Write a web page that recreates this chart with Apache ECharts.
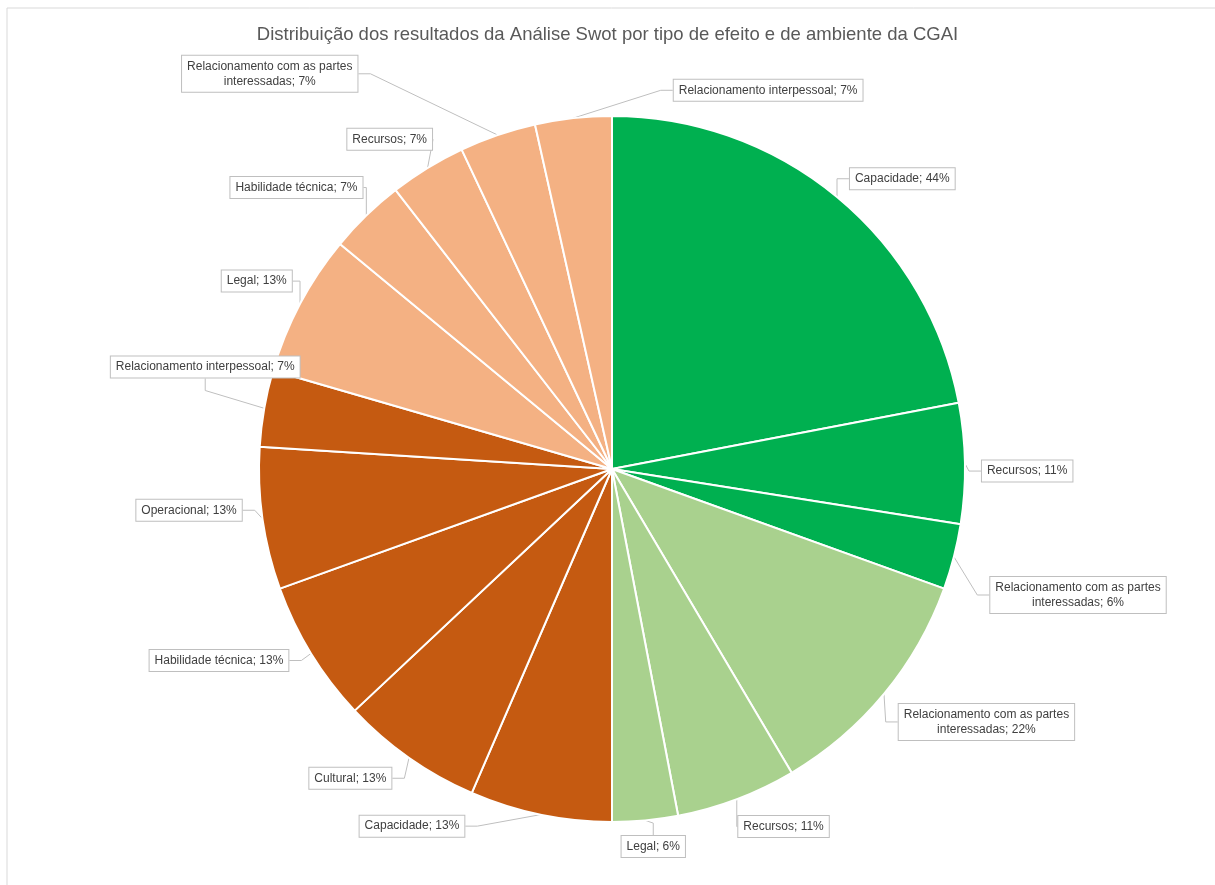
<!DOCTYPE html>
<html>
<head>
<meta charset="utf-8">
<style>
  html, body { margin: 0; padding: 0; background: #fff; }
  #swot { width: 1215px; height: 885px; }
</style>
<script src="https://cdn.jsdelivr.net/npm/echarts@6/dist/echarts.min.js"></script>
</head>
<body>
<div id="swot"></div>
<script>
// Categories, clockwise from the top
var categories = [
  'Capacidade', 'Recursos', 'Relacionamento com as partes interessadas',
  'Relacionamento com as partes interessadas', 'Recursos', 'Legal',
  'Capacidade', 'Cultural', 'Habilidade técnica', 'Operacional', 'Relacionamento interpessoal',
  'Legal', 'Habilidade técnica', 'Recursos', 'Relacionamento com as partes interessadas', 'Relacionamento interpessoal'
];
// share inside each type of effect (%)
var shares = [44, 11, 6, 22, 11, 6, 13, 13, 13, 13, 7, 13, 7, 7, 7, 7];
// which group each slice belongs to
var groups = [0, 0, 0, 1, 1, 1, 2, 2, 2, 2, 2, 3, 3, 3, 3, 3];

const groupColors = ['#00B050', '#A9D18E', '#C55A11', '#F4B183'];

// nudges of the callouts from the default spot (Excel put them by hand)
const labelNudge = [
  [-20, 1], [-20, 8], [0, 32], [-18, 12], [-26, 4], [-43, -1],
  [-54, -13], [10, 0], [11, -6], [16, -12], [72, -37],
  [26, -11], [26, -10], [48, -19], [-83, -52], [309, -3]
];

var chart = echarts.init(document.getElementById('swot'));

var pieData = [];
for (var i = 0; i < categories.length; i++) {
  pieData.push({
    name: categories[i],
    value: shares[i],
    itemStyle: { color: groupColors[groups[i]] }
  });
}

// break the long names on two lines like the original callouts
function labelText(p) {
  var txt = '{c|' + p.name + '; ' + p.value + '%}';
  if (p.name == 'Relacionamento com as partes interessadas') {
    txt = '{c|Relacionamento com as partes}\n{c|interessadas; ' + p.value + '%}';
  }
  return txt;
}

var option = {
  animation: false,
  title: {
    text: 'Distribuição dos resultados da Análise Swot por tipo de efeito e de ambiente da CGAI',
    left: 'center',
    top: 20,
    textStyle: {
      fontFamily: 'Liberation Sans',
      fontSize: 18.5,
      fontWeight: 'normal',
      color: '#595959'
    }
  },
  graphic: [
    {
      type: 'rect',
      shape: { x: 7, y: 8, width: 1300, height: 1000 },
      style: { fill: 'none', stroke: '#D9D9D9', lineWidth: 1 },
      silent: true
    }
  ],
  series: [
    {
      type: 'pie',
      center: [612, 469],
      radius: [0, 353],
      startAngle: 90,
      clockwise: true,
      data: pieData,
      itemStyle: {
        borderColor: '#fff',
        borderWidth: 2
      },
      label: {
        position: 'outside',
        formatter: labelText,
        fontFamily: 'Liberation Sans',
        fontSize: 12,
        color: '#404040',
        backgroundColor: '#fff',
        borderColor: '#BFBFBF',
        borderWidth: 1,
        padding: [3, 5],
        rich: {
          c: {
            fontFamily: 'Liberation Sans',
            fontSize: 12,
            color: '#404040',
            lineHeight: 15,
            align: 'center'
          }
        }
      },
      labelLine: {
        show: true,
        length: 25,
        length2: 12,
        lineStyle: { color: '#BFBFBF', width: 1 }
      },
      labelLayout: function (p) {
        var r = p.labelRect;
        var n = labelNudge[p.dataIndex];
        return {
          x: r.x + r.width / 2 + n[0],
          y: r.y + r.height / 2 + n[1],
          align: 'center',
          verticalAlign: 'middle'
        };
      }
    }
  ]
};

chart.setOption(option);
</script>
</body>
</html>
